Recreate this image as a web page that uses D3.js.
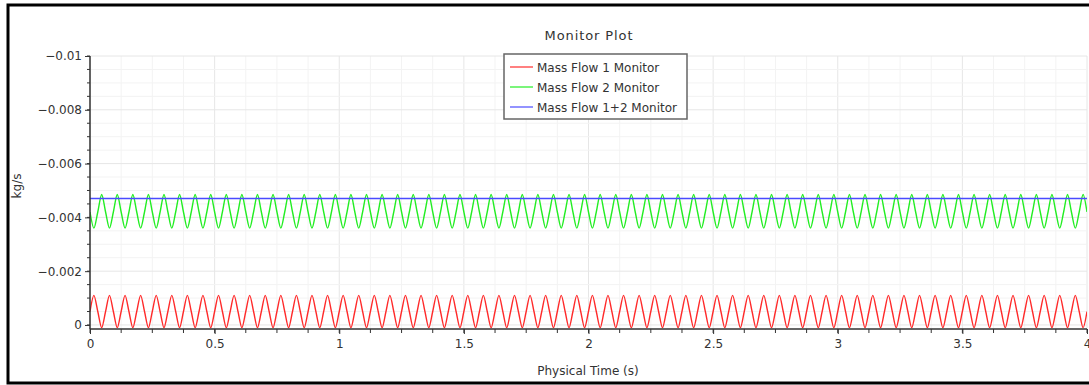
<!DOCTYPE html>
<html>
<head>
<meta charset="utf-8">
<script src="https://cdn.jsdelivr.net/npm/d3@7/dist/d3.min.js"></script>
<style>
  body { margin: 0; background: #fff; }
  svg { display: block; }
  svg text { font-family: "DejaVu Sans", sans-serif; fill: #333; }
</style>
</head>
<body>
<svg id="chart" width="1089" height="385"></svg>
<script>
const period = 0.0625;            // s, 64 cycles over 4 s
const tEnd = 4;
const flow1Cycle = [-0.0005, -0.0011, -0.0005, 0.0001];
const flow2Cycle = [-0.0042, -0.0036, -0.0042, -0.00485];
const flowSum = -0.0047;
const seriesNames = ["Mass Flow 1 Monitor", "Mass Flow 2 Monitor", "Mass Flow 1+2 Monitor"];
const seriesColors = ["#ff2a2a", "#22ee22", "#4a4aff"];
const xTicks = [0, 0.5, 1, 1.5, 2, 2.5, 3, 3.5, 4];
const yTicks = [0, -0.002, -0.004, -0.006, -0.008, -0.01];

const svg = d3.select("#chart");
const mL = 90, mR = 1087, mT = 56, mB = 329;

const x = d3.scaleLinear().domain([0, tEnd]).range([mL, mR]);
const y = d3.scaleLinear().domain([0.00015, -0.01]).range([mB, mT]);

// sample times at quarter periods
const times = d3.range(0, Math.round(tEnd / period * 4) + 1).map(i => i * period / 4);
const flow1 = times.map((t, i) => ({ t: t, v: flow1Cycle[i % 4] }));
const flow2 = times.map((t, i) => ({ t: t, v: flow2Cycle[i % 4] }));
const flow12 = [{ t: 0, v: flowSum }, { t: tEnd, v: flowSum }];

// outer frame
svg.append("rect")
  .attr("x", 8).attr("y", 5).attr("width", 1100).attr("height", 378)
  .attr("fill", "none").attr("stroke", "#000").attr("stroke-width", 3);

// grid
const xMinor = d3.range(0, tEnd + 0.0001, 0.125);
const yMinor = d3.range(0, 21).map(i => -i * 0.0005);
svg.append("g").selectAll("line").data(xMinor).enter().append("line")
  .attr("x1", d => x(d)).attr("x2", d => x(d)).attr("y1", mT).attr("y2", mB)
  .attr("stroke", (d, i) => i % 4 === 0 ? "#e6e6e6" : "#f3f3f3");
svg.append("g").selectAll("line").data(yMinor).enter().append("line")
  .attr("x1", mL).attr("x2", mR).attr("y1", d => y(d)).attr("y2", d => y(d))
  .attr("stroke", (d, i) => i % 4 === 0 ? "#e6e6e6" : "#f3f3f3");

// series
svg.append("clipPath").attr("id", "clip").append("rect")
  .attr("x", mL).attr("y", mT).attr("width", mR - mL).attr("height", mB - mT);
const line = d3.line().x(d => x(d.t)).y(d => y(d.v)).curve(d3.curveCardinal.tension(0.1));
const plot = svg.append("g").attr("clip-path", "url(#clip)");
[flow1, flow2, flow12].forEach((data, i) => {
  plot.append("path").datum(data)
    .attr("d", line).attr("fill", "none")
    .attr("stroke", seriesColors[i]).attr("stroke-width", 1.4);
});

// axes
const xAxis = svg.append("g").attr("transform", "translate(0," + mB + ")");
xAxis.call(d3.axisBottom(x).tickValues(xTicks).tickFormat(d3.format("")).tickSize(5).tickPadding(5));
xAxis.append("g").selectAll("line").data(xMinor).enter().append("line")
  .attr("x1", d => x(d)).attr("x2", d => x(d)).attr("y1", 0).attr("y2", 4).attr("stroke", "#333");
const yAxis = svg.append("g").attr("transform", "translate(" + mL + ",0)");
yAxis.call(d3.axisLeft(y).tickValues(yTicks).tickFormat(d => d === 0 ? "0" : "\u2212" + Math.abs(d)).tickSize(5).tickPadding(3));
yAxis.append("g").selectAll("line").data(yMinor).enter().append("line")
  .attr("x1", -3).attr("x2", 0).attr("y1", d => y(d)).attr("y2", d => y(d)).attr("stroke", "#333");
svg.selectAll(".domain").attr("stroke", "#333").attr("stroke-width", 1.5);
xAxis.select(".domain").attr("d", "M" + mL + ",0H" + mR);
yAxis.select(".domain").attr("d", "M0," + mT + "V" + mB);
svg.selectAll(".tick line").attr("stroke", "#333");
svg.selectAll(".tick text").style("font-size", "12px");

// titles
svg.append("text").attr("x", 589).attr("y", 40).attr("text-anchor", "middle")
  .style("font-size", "13px").style("letter-spacing", "0.9px").text("Monitor Plot");
svg.append("text").attr("x", 588).attr("y", 375).attr("text-anchor", "middle")
  .style("font-size", "12px").text("Physical Time (s)");
svg.append("text").attr("transform", "translate(21,186) rotate(-90)").attr("text-anchor", "middle")
  .style("font-size", "12px").text("kg/s");

// legend
const legend = svg.append("g").attr("transform", "translate(504,54)");
legend.append("rect").attr("width", 183).attr("height", 65)
  .attr("fill", "#fff").attr("stroke", "#666").attr("stroke-width", 1.5);
seriesNames.forEach((name, i) => {
  const row = legend.append("g").attr("transform", "translate(0," + (13 + i * 20) + ")");
  row.append("line").attr("x1", 6).attr("x2", 29).attr("stroke", seriesColors[i]).attr("stroke-width", 1.2);
  row.append("text").attr("x", 33).attr("y", 4.5)
    .style("font-size", "12px").text(name);
});
</script>
</body>
</html>
